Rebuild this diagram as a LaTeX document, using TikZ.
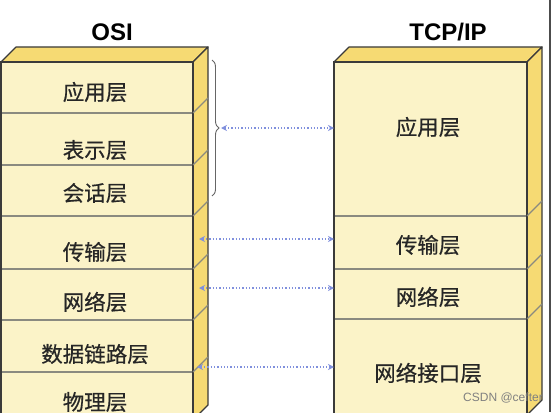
\documentclass[tikz,border=0pt]{standalone}
\usepackage{fontspec}
\setmainfont{Liberation Sans}
\newfontfamily\cjk[FakeBold=0.5]{Noto Sans CJK SC}
\usetikzlibrary{arrows.meta,decorations.pathreplacing}
\definecolor{frontc}{HTML}{FBF3C8}
\definecolor{sidec}{HTML}{F6DA73}
\definecolor{edgec}{HTML}{3A3A3A}
\definecolor{divc}{HTML}{8A8A80}
\definecolor{arrc}{HTML}{8090DD}
\begin{document}
\begin{tikzpicture}[x=1pt,y=-1pt,
  layer/.style={draw=divc, line width=1.4pt, fill=frontc, rectangle, inner sep=0pt, outer sep=0pt},
  lab/.style={font=\cjk\fontsize{21.5}{21.5}\selectfont, text=black!85, inner sep=0pt},
  ttl/.style={font=\bfseries\fontsize{24}{24}\selectfont, text=black, inner sep=0pt},
  sideface/.style={fill=sidec, draw=edgec, line width=1.2pt, line join=round},
  topface/.style={fill=sidec, draw=edgec, line width=1.2pt, line join=round},
  divline/.style={draw=divc, line width=1.2pt},
  outline/.style={draw=edgec, line width=1.5pt},
  arr/.style={draw=arrc, line width=1.3pt, dotted, {Stealth[length=6pt,width=6pt]}-{Stealth[length=6pt,width=6pt]}},
  bracestyle/.style={draw=black!60, line width=0.9pt, decorate, decoration={brace, amplitude=7pt}}
]
\useasboundingbox (0,0) rectangle (553,412);
\clip (0,0) rectangle (553,412);
\fill[white] (0,0) rectangle (553,412);

% titles
\node[ttl] (tosi) at (112,32) {OSI};
\node[ttl] (ttcp) at (448,32) {TCP/IP};

% ---------- OSI block ----------
\path[topface] (1,62) -- (16,47) -- (208,47) -- (193,62) -- cycle;
\path[sideface] (193,62) -- (208,47) -- (208,405) -- (193,420) -- cycle;
\node[layer, minimum width=192pt, minimum height=51pt] (osi1) at (97,87.5) {};
\node[layer, minimum width=192pt, minimum height=52pt] (osi2) at (97,139) {};
\node[layer, minimum width=192pt, minimum height=51pt] (osi3) at (97,190.5) {};
\node[layer, minimum width=192pt, minimum height=53pt] (osi4) at (97,242.5) {};
\node[layer, minimum width=192pt, minimum height=51pt] (osi5) at (97,294.5) {};
\node[layer, minimum width=192pt, minimum height=52pt] (osi6) at (97,346) {};
\node[layer, minimum width=192pt, minimum height=52pt] (osi7) at (97,398) {};
\draw[outline] (1,430) -- (1,62) -- (193,62) -- (193,430);
\foreach \n in {osi1,osi2,osi3,osi4,osi5,osi6}
  \draw[divline] (\n.south east) -- ++(15,-15);

\node[lab] (losi1) at (95,92) {应用层};
\node[lab] (losi2) at (95,150) {表示层};
\node[lab] (losi3) at (95,193) {会话层};
\node[lab] (losi4) at (95,252) {传输层};
\node[lab] (losi5) at (95,302) {网络层};
\node[lab] (losi6) at (95,354) {数据链路层};
\node[lab] (losi7) at (95,402) {物理层};

% ---------- TCP/IP block ----------
\path[topface] (334,62) -- (349,47) -- (542,47) -- (527,62) -- cycle;
\path[sideface] (527,62) -- (542,47) -- (542,400) -- (527,415) -- cycle;
\node[layer, minimum width=193pt, minimum height=154pt] (tcp1) at (430.5,139) {};
\node[layer, minimum width=193pt, minimum height=53pt] (tcp2) at (430.5,242.5) {};
\node[layer, minimum width=193pt, minimum height=50pt] (tcp3) at (430.5,294) {};
\node[layer, minimum width=193pt, minimum height=106pt] (tcp4) at (430.5,372) {};
\draw[outline] (334,430) -- (334,62) -- (527,62) -- (527,430);
\foreach \n in {tcp1,tcp2,tcp3}
  \draw[divline] (\n.south east) -- ++(15,-15);

\node[lab] (ltcp1) at (428,127) {应用层};
\node[lab] (ltcp2) at (428,245) {传输层};
\node[lab] (ltcp3) at (428,297) {网络层};
\node[lab] (ltcp4) at (428,373) {网络接口层};

% brace and arrows
\draw[bracestyle] (212,60) -- (212,196);
\coordinate (a1) at (221,128);
\coordinate (a2) at (199,239);
\coordinate (a3) at (199,288);
\coordinate (a4) at (197,367);
\draw[arr] (a1) -- (tcp1.west |- a1);
\draw[arr] (a2) -- (tcp2.west |- a2);
\draw[arr] (a3) -- (tcp3.west |- a3);
\draw[arr] (a4) -- (tcp4.west |- a4);

% frame line and watermark
\draw[black!70, line width=1.2pt] (550,0) -- (550,412);
\node[text=black!50, font=\fontsize{12}{12}\selectfont, inner sep=0pt] (wm) at (503,398) {CSDN @cefter};
\end{tikzpicture}
\end{document}
